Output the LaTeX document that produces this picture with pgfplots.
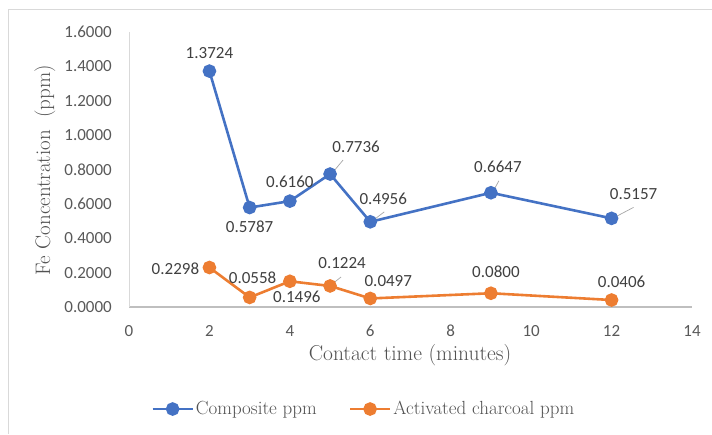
\documentclass[border=0pt]{standalone}
\usepackage{pgfplots}
\pgfplotsset{compat=1.18}
\usepackage{fontspec}
\newfontfamily\calibri{Carlito}
\definecolor{cblue}{HTML}{4472C4}
\definecolor{corange}{HTML}{ED7D31}
\definecolor{lab}{HTML}{404040}
\definecolor{tick}{HTML}{595959}
\begin{document}
\begin{tikzpicture}
\path[use as bounding box] (0,0) rectangle (712pt,434pt);
\draw[color=black!15, line width=0.8pt] (8pt,0pt) -- (8pt,425pt) -- (712pt,425pt);
\begin{axis}[
  at={(129pt,127pt)}, anchor=south west,
  scale only axis, width=563pt, height=275pt,
  xmin=0, xmax=14, ymin=0, ymax=1.6,
  xtick={0,2,...,14}, ytick={0,0.2,...,1.6},
  clip=false,
  axis x line*=bottom, axis y line*=left,
  x axis line style={draw=black!25, line width=1.3pt, -},
  y axis line style={draw=black!15, line width=0.8pt, -},
  major tick length=0pt,
  /pgf/number format/assume math mode=true,
  yticklabel={\pgfmathprintnumber[fixed, fixed zerofill, precision=4]{\tick}},
  xticklabel style={font=\calibri\fontsize{17}{20}\selectfont, text=tick, inner sep=0pt, anchor=center, yshift=-24pt},
  yticklabel style={font=\calibri\fontsize{17}{20}\selectfont, text=tick, inner sep=0pt, anchor=east, xshift=-17pt},
  legend style={at={(0.417,-0.371)}, anchor=center, draw=none, legend columns=2,
    font=\fontsize{19}{22}\selectfont, text=black!68, inner sep=0pt,
    /tikz/every even column/.append style={column sep=30pt}},
  legend image code/.code={\draw[mark repeat=2,mark phase=2,#1] plot coordinates {(0pt,0pt) (20pt,0pt) (40pt,0pt)};},
  nodes near coords, point meta=explicit symbolic,
  visualization depends on={\thisrow{dx} \as \dx},
  visualization depends on={\thisrow{dy} \as \dy},
  every node near coord/.append style={anchor=center, xshift=\dx pt, yshift=\dy pt,
    font=\calibri\fontsize{17}{20}\selectfont, text=lab},
]
\draw[black!35, line width=0.7pt] (axis cs:5,0.7736) ++(3pt,2pt) -- ++(10pt,12pt);
\draw[black!35, line width=0.7pt] (axis cs:6,0.4956) ++(1pt,0pt) -- ++(13pt,10pt);
\draw[black!35, line width=0.7pt] (axis cs:9,0.6647) ++(3pt,3pt) -- ++(5pt,9pt);
\draw[black!35, line width=0.7pt] (axis cs:12,0.5157) ++(3pt,1pt) -- ++(19pt,10pt);
\draw[black!35, line width=0.7pt] (axis cs:5,0.1224) ++(1pt,1pt) -- ++(10pt,8pt);
\addplot[cblue, line width=2.6pt, mark=*, mark size=5.5pt] table[x=x, y=y, meta=lab] {
x y lab dx dy
2 1.3724 1.3724 0 18
3 0.5787 0.5787 0 -19
4 0.6160 0.6160 0 19
5 0.7736 0.7736 26 27
6 0.4956 0.4956 13 23
9 0.6647 0.6647 7 26
12 0.5157 0.5157 22 24
};
\addlegendentry{Composite ppm}
\addplot[corange, line width=2.6pt, mark=*, mark size=5.5pt] table[x=x, y=y, meta=lab] {
x y lab dx dy
2 0.2298 0.2298 -34 -1
3 0.0558 0.0558 3 20
4 0.1496 0.1496 7 -16
5 0.1224 0.1224 12 23
6 0.0497 0.0497 18 17
9 0.0800 0.0800 5 21
12 0.0406 0.0406 10 18
};
\addlegendentry{Activated charcoal ppm}
\end{axis}
\node[font=\fontsize{21.5}{25}\selectfont, text=black!68] at (410pt,79pt) {Contact time (minutes)};
\node[font=\fontsize{21}{25}\selectfont, text=black!68, rotate=90] at (45pt,168pt) [anchor=center] {};
\node[font=\fontsize{21}{25}\selectfont, text=black!68, rotate=90] at (45pt,264pt) {Fe Concentration\hspace{0.6em}(ppm)};
\end{tikzpicture}
\end{document}
